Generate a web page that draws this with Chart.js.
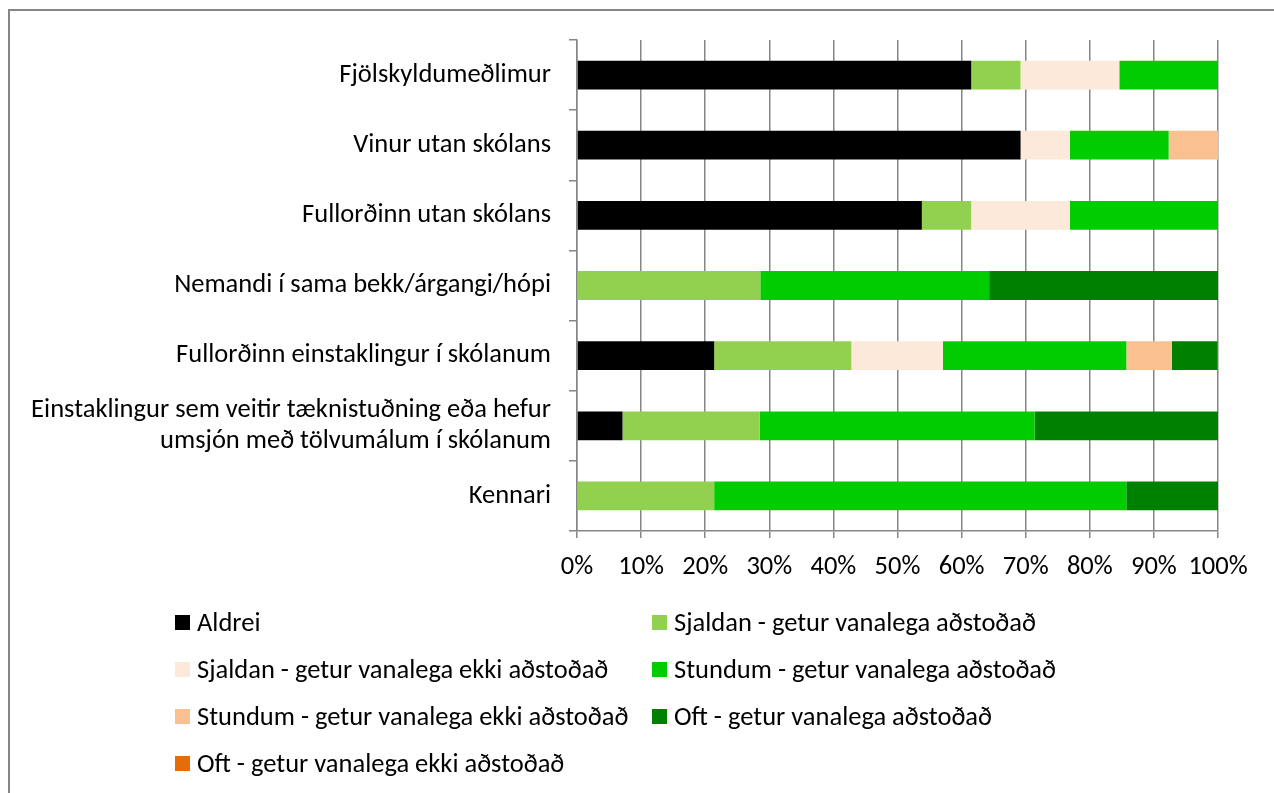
<!DOCTYPE html>
<html>
<head>
<meta charset="utf-8">
<script src="https://cdn.jsdelivr.net/npm/chart.js@4"></script>
<style>
  html, body { margin: 0; padding: 0; background: #fff; }
  #wrap { width: 1274px; height: 793px; position: relative; }
</style>
</head>
<body>
<div id="wrap"><canvas id="myChart"></canvas></div>
<script>
// flokkar (efst til neðst)
const categories = [
  'Fjölskyldumeðlimur',
  'Vinur utan skólans',
  'Fullorðinn utan skólans',
  'Nemandi í sama bekk/árgangi/hópi',
  'Fullorðinn einstaklingur í skólanum',
  ['Einstaklingur sem veitir tæknistuðning eða hefur', 'umsjón með tölvumálum í skólanum'],
  'Kennari'
];

const seriesNames = [
  'Aldrei',
  'Sjaldan - getur vanalega aðstoðað',
  'Sjaldan - getur vanalega ekki aðstoðað',
  'Stundum - getur vanalega aðstoðað',
  'Stundum - getur vanalega ekki aðstoðað',
  'Oft - getur vanalega aðstoðað',
  'Oft - getur vanalega ekki aðstoðað'
];

// hlutfall (%) fyrir hvern flokk
const aldrei        = [61.5, 69.2, 53.8, 0,    21.4, 7.1,  0];
const sjaldanGetur  = [7.7,  0,    7.7,  28.6, 21.4, 21.4, 21.4];
const sjaldanEkki   = [15.4, 7.7,  15.4, 0,    14.3, 0,    0];
const stundumGetur  = [15.4, 15.4, 23.1, 35.7, 28.6, 42.9, 64.3];
const stundumEkki   = [0,    7.7,  0,    0,    7.1,  0,    0];
const oftGetur      = [0,    0,    0,    35.7, 7.1,  28.6, 14.3];
const oftEkki       = [0,    0,    0,    0,    0,    0,    0];

const xTicks = [0, 10, 20, 30, 40, 50, 60, 70, 80, 90, 100];

const colors = ['#000000', '#92D050', '#FDE9D9', '#00CC00', '#FAC090', '#008000', '#E46C0A'];
const series = [aldrei, sjaldanGetur, sjaldanEkki, stundumGetur, stundumEkki, oftGetur, oftEkki];

const FONT = "Carlito, Lato, 'Open Sans', sans-serif";
const FS = 26.5;
const grey = '#868686';

const frame = {
  id: 'frame',
  beforeDraw(chart) {
    const c = chart.ctx;
    c.save();
    c.fillStyle = '#fff';
    c.fillRect(0, 0, chart.width, chart.height);
    c.strokeStyle = grey;
    c.lineWidth = 2;
    c.beginPath();
    c.moveTo(9, chart.height);
    c.lineTo(9, 10);
    c.lineTo(chart.width, 10);
    c.stroke();
    c.restore();
  }
};

// legend in two columns
const gridLegend = {
  id: 'gridLegend',
  afterDraw(chart) {
    const c = chart.ctx;
    c.save();
    c.font = FS + 'px ' + FONT;
    c.textBaseline = 'middle';
    chart.data.datasets.forEach((ds, i) => {
      const col = i % 2, row = Math.floor(i / 2);
      const x = col === 0 ? 175 : 652;
      const y = 622 + row * 47;
      c.fillStyle = ds.backgroundColor;
      c.fillRect(x, y - 7, 15, 15);
      c.fillStyle = '#000';
      c.fillText(ds.label, x + 22, y + 2);
    });
    c.restore();
  }
};

new Chart(document.getElementById('myChart'), {
  type: 'bar',
  data: {
    labels: categories,
    datasets: series.map((d, i) => ({
      label: seriesNames[i],
      data: d,
      backgroundColor: colors[i],
      borderWidth: 0,
      barPercentage: 0.41,
      categoryPercentage: 1
    }))
  },
  options: {
    indexAxis: 'y',
    responsive: true,
    maintainAspectRatio: false,
    animation: false,
    layout: { padding: { left: 0, right: 56, top: 40, bottom: 212 } },
    plugins: {
      legend: { display: false },
      tooltip: { enabled: false }
    },
    scales: {
      x: {
        stacked: true,
        min: 0,
        max: 100,
        afterBuildTicks: s => { s.ticks = xTicks.map(v => ({ value: v })); },
        afterFit: s => { s.height = 50; },
        grid: { color: grey, lineWidth: 1.5, tickLength: 7, drawTicks: true },
        border: { color: grey, width: 1.5 },
        ticks: {
          color: '#000',
          font: { family: FONT, size: FS },
          padding: 13,
          autoSkip: false,
          maxRotation: 0,
          callback: v => v + '%'
        }
      },
      y: {
        stacked: true,
        afterFit: s => { s.width = 577; },
        grid: { drawOnChartArea: false, color: grey, lineWidth: 1.5, tickLength: 8, offset: true },
        border: { color: grey, width: 1.5 },
        ticks: {
          color: '#000',
          font: { family: FONT, size: FS, lineHeight: 1.17 },
          padding: 18
        }
      }
    }
  },
  plugins: [frame, gridLegend]
});
</script>
</body>
</html>
